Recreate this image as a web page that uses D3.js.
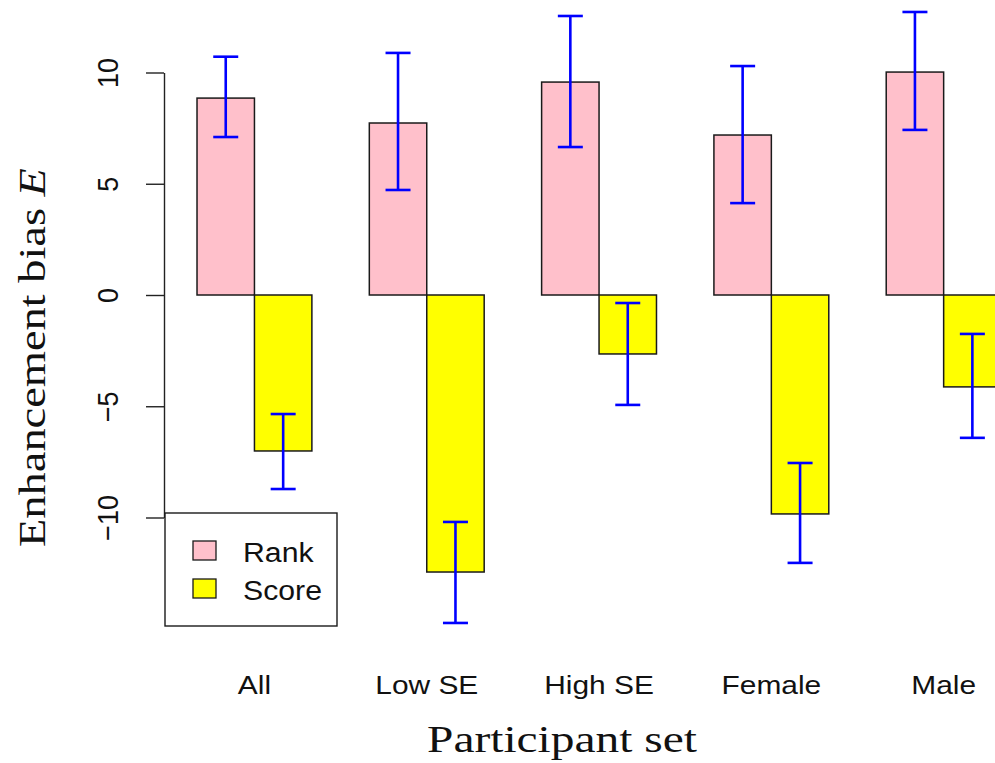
<!DOCTYPE html>
<html>
<head>
<meta charset="utf-8">
<script src="https://cdn.jsdelivr.net/npm/d3@7"></script>
<style>
  html, body { margin: 0; padding: 0; background: #fff; }
  svg { display: block; }
</style>
</head>
<body>
<div id="chart"></div>
<script>
// ---- data ----
const categories = ["All", "Low SE", "High SE", "Female", "Male"];
const seriesNames = ["Rank", "Score"];
const rankValues = [8.85, 7.73, 9.57, 7.19, 10.02];
const rankLower  = [7.10, 4.72, 6.65, 4.13, 7.42];
const rankUpper  = [10.71, 10.88, 12.54, 10.29, 12.72];
const scoreValues = [-7.01, -12.45, -2.65, -9.84, -4.13];
const scoreLower  = [-8.72, -14.74, -4.94, -12.04, -6.42];
const scoreUpper  = [-5.35, -10.20, -0.36, -7.55, -1.75];
const yTicks = [-10, -5, 0, 5, 10];
const seriesColors = ["#FFC0CB", "#FFFF00"];

const W = 995, H = 763;
const SX = 1.12; // horizontal text stretch seen in the reference

const svg = d3.select("#chart").append("svg")
  .attr("width", W).attr("height", H);

const x0 = d3.scaleBand().domain(categories)
  .range([168.3, 168.3 + 5 * 172.3])
  .paddingInner(1 / 3).paddingOuter(1 / 6);
const x1 = d3.scaleBand().domain(seriesNames).range([0, x0.bandwidth()]);
const y = d3.scaleLinear().domain([-10, 10]).range([517.5, 72.5]);
const color = d3.scaleOrdinal().domain(seriesNames).range(seriesColors);

const rows = [];
categories.forEach((c, i) => {
  rows.push({cat: c, series: "Rank", v: rankValues[i], lo: rankLower[i], hi: rankUpper[i]});
  rows.push({cat: c, series: "Score", v: scoreValues[i], lo: scoreLower[i], hi: scoreUpper[i]});
});

// bars
svg.append("g").selectAll("rect").data(rows).join("rect")
  .attr("x", d => x0(d.cat) + x1(d.series))
  .attr("width", x1.bandwidth())
  .attr("y", d => y(Math.max(0, d.v)))
  .attr("height", d => Math.abs(y(d.v) - y(0)))
  .attr("fill", d => color(d.series))
  .attr("stroke", "#1a1a1a")
  .attr("stroke-width", 1.5);

// error bars
const eb = svg.append("g").attr("stroke", "#0000FF").attr("stroke-width", 2.6).attr("fill", "none");
const cx = d => x0(d.cat) + x1(d.series) + x1.bandwidth() / 2;
eb.selectAll("line.v").data(rows).join("line").attr("class", "v")
  .attr("x1", cx).attr("x2", cx)
  .attr("y1", d => y(d.lo)).attr("y2", d => y(d.hi));
eb.selectAll("line.t").data(rows).join("line").attr("class", "t")
  .attr("x1", d => cx(d) - 12.5).attr("x2", d => cx(d) + 12.5)
  .attr("y1", d => y(d.hi)).attr("y2", d => y(d.hi));
eb.selectAll("line.b").data(rows).join("line").attr("class", "b")
  .attr("x1", d => cx(d) - 12.5).attr("x2", d => cx(d) + 12.5)
  .attr("y1", d => y(d.lo)).attr("y2", d => y(d.lo));

// y axis
const axis = d3.axisLeft(y).tickValues(yTicks).tickSizeInner(18).tickSizeOuter(0)
  .tickFormat(d3.format("d"));
const gA = svg.append("g").attr("transform", "translate(164,0)").call(axis);
gA.select(".domain").attr("stroke", "#222").attr("stroke-width", 1.4);
gA.selectAll(".tick line").attr("stroke", "#222").attr("stroke-width", 1.4);
gA.selectAll(".tick text")
  .attr("x", null).attr("dy", null)
  .attr("text-anchor", "middle")
  .attr("transform", `translate(-46,0) scale(${SX},1) rotate(-90)`)
  .attr("font-family", "Liberation Sans, Arial, sans-serif")
  .attr("font-size", 27)
  .attr("fill", "#111");

// category labels
svg.append("g").selectAll("text").data(categories).join("text")
  .attr("transform", d => `translate(${x0(d) + x0.bandwidth() / 2},694) scale(1.15,1)`)
  .attr("text-anchor", "middle")
  .attr("font-family", "Liberation Sans, Arial, sans-serif")
  .attr("font-size", 26)
  .attr("fill", "#111")
  .text(d => d);

// axis titles
svg.append("text")
  .attr("x", 427).attr("y", 752)
  .attr("textLength", 270).attr("lengthAdjust", "spacingAndGlyphs")
  .attr("font-family", "Liberation Serif, Times New Roman, serif")
  .attr("font-size", 38)
  .attr("fill", "#111")
  .text("Participant set");

const yt = svg.append("text")
  .attr("transform", "translate(45,547) rotate(-90)")
  .attr("x", 0).attr("y", 0)
  .attr("textLength", 379).attr("lengthAdjust", "spacingAndGlyphs")
  .attr("font-family", "Liberation Serif, Times New Roman, serif")
  .attr("font-size", 38)
  .attr("fill", "#111");
yt.append("tspan").text("Enhancement bias ");
yt.append("tspan").attr("font-style", "italic").text("E");

// legend
const lg = svg.append("g");
lg.append("rect").attr("x", 165).attr("y", 513).attr("width", 172).attr("height", 113)
  .attr("fill", "#fff").attr("stroke", "#1a1a1a").attr("stroke-width", 1.4);
const legY = [541, 579];
seriesNames.forEach((s, i) => {
  lg.append("rect").attr("x", 193).attr("y", legY[i]).attr("width", 23).attr("height", 19)
    .attr("fill", color(s)).attr("stroke", "#1a1a1a").attr("stroke-width", 1.3);
  lg.append("text")
    .attr("transform", `translate(243,${legY[i] + 20.5}) scale(${SX},1)`)
    .attr("font-family", "Liberation Sans, Arial, sans-serif")
    .attr("font-size", 27)
    .attr("fill", "#111")
    .text(s);
});
</script>
</body>
</html>
